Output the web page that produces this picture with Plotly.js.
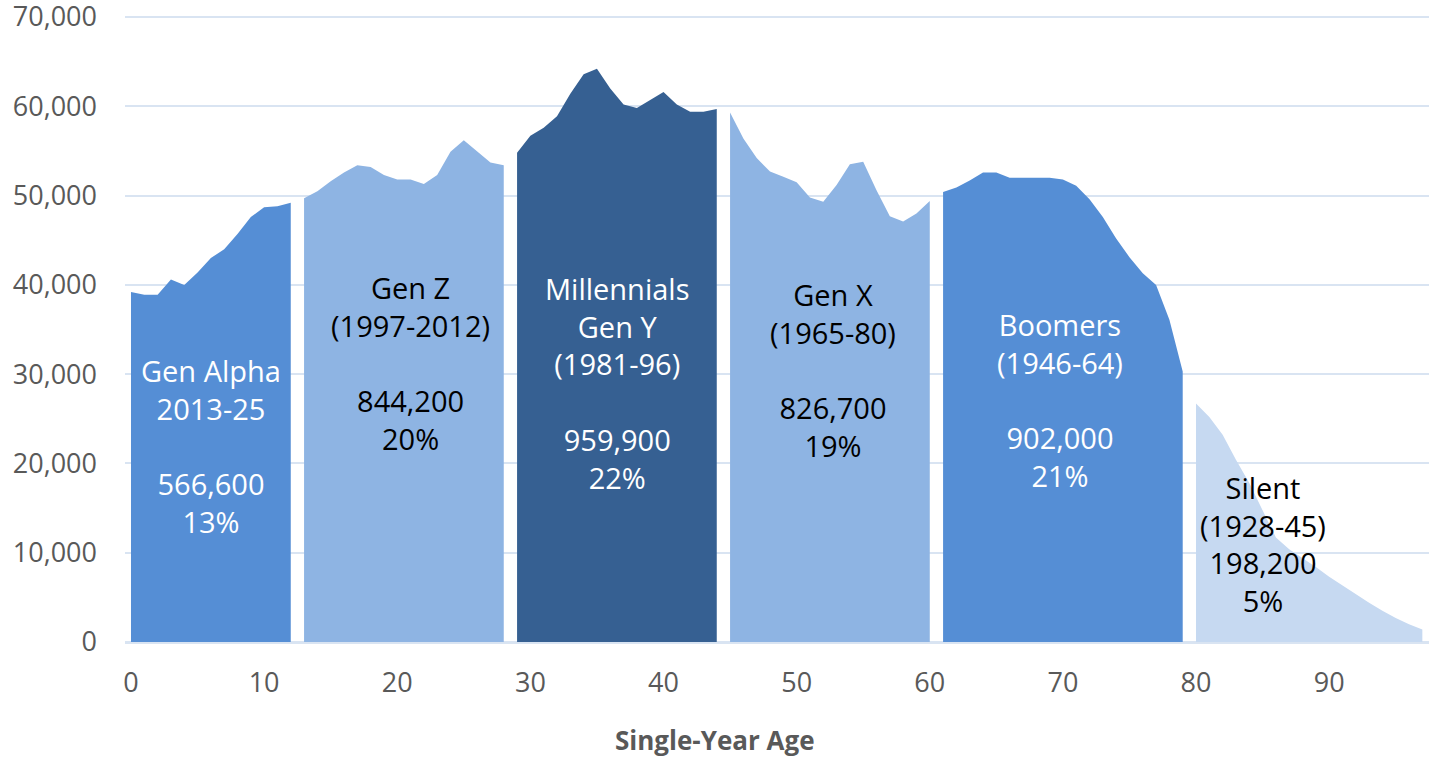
<!DOCTYPE html>
<html>
<head>
<meta charset="utf-8">
<script src="https://cdn.plot.ly/plotly-3.0.1.min.js"></script>
<style>
  html, body { margin: 0; padding: 0; background: #ffffff; }
  #chart { width: 1433px; height: 757px; }
</style>
</head>
<body>
<div id="chart"></div>
<script>
// ---- Data ----
const genAlphaAges = [0,1,2,3,4,5,6,7,8,9,10,11,12];
const genAlphaPop  = [39200,38900,38900,40600,40000,41400,43000,44000,45700,47600,48700,48800,49200];

const genZAges = [13,14,15,16,17,18,19,20,21,22,23,24,25,26,27,28];
const genZPop  = [49700,50500,51600,52600,53400,53200,52300,51800,51800,51300,52300,54900,56200,55000,53700,53400];

const millAges = [29,30,31,32,33,34,35,36,37,38,39,40,41,42,43,44];
const millPop  = [54800,56700,57600,58900,61400,63600,64200,62000,60200,59800,60700,61600,60200,59400,59400,59700];

const genXAges = [45,46,47,48,49,50,51,52,53,54,55,56,57,58,59,60];
const genXPop  = [59300,56400,54200,52700,52100,51500,49800,49300,51200,53500,53800,50600,47700,47100,48000,49400];

const boomAges = [61,62,63,64,65,66,67,68,69,70,71,72,73,74,75,76,77,78,79];
const boomPop  = [50400,50900,51700,52600,52600,52000,52000,52000,52000,51800,51100,49600,47600,45200,43100,41300,40000,36100,30300];

const silentAges = [80,81,82,83,84,85,86,87,88,89,90,91,92,93,94,95,96,97];
const silentPop  = [26700,25200,23200,20400,17800,14800,11700,10400,9400,8400,7300,6300,5300,4400,3500,2700,2000,1400];

const genNames   = ["Gen Alpha", "Gen Z", "Millennials Gen Y", "Gen X", "Boomers", "Silent"];
const genLabels  = [
  "Gen Alpha<br>2013-25<br> <br>566,600<br>13%",
  "Gen Z<br>(1997-2012)<br> <br>844,200<br>20%",
  "Millennials<br>Gen Y<br>(1981-96)<br> <br>959,900<br>22%",
  "Gen X<br>(1965-80)<br> <br>826,700<br>19%",
  "Boomers<br>(1946-64)<br> <br>902,000<br>21%",
  "Silent<br>(1928-45)<br>198,200<br>5%"
];
const labelAge   = [6.0, 21.0, 36.5, 52.7, 69.8, 85.0];
const labelPop   = [22000, 31200, 29000, 30500, 27100, 11000];

const yTickVals  = [0,10000,20000,30000,40000,50000,60000,70000];
const xTickVals  = [0,10,20,30,40,50,60,70,80,90];
const xTitle     = "Single-Year Age";

// ---- Styles ----
const fills      = ["#558ed5", "#8eb4e3", "#366092", "#8eb4e3", "#558ed5", "#c6d9f1"];
const textColors = ["#ffffff", "#000000", "#ffffff", "#000000", "#ffffff", "#000000"];
const FONT = "'Open Sans', 'Noto Sans', sans-serif";
const gridColor = "#d9e4f2";

const series = [
  [genAlphaAges, genAlphaPop],
  [genZAges, genZPop],
  [millAges, millPop],
  [genXAges, genXPop],
  [boomAges, boomPop],
  [silentAges, silentPop]
];

const traces = series.map((s, i) => ({
  type: "scatter",
  mode: "lines",
  x: s[0],
  y: s[1],
  name: genNames[i],
  fill: "tozeroy",
  fillcolor: fills[i],
  line: { width: 0, color: fills[i] },
  hoverinfo: "x+y+name",
  showlegend: false
}));

const L = 125, R = 4, T = 14, B = 115, W = 1433, H = 757;

const annotations = genLabels.map((t, i) => ({
  x: labelAge[i],
  y: labelPop[i],
  xref: "x",
  yref: "y",
  text: t,
  showarrow: false,
  xanchor: "center",
  yanchor: "middle",
  align: "center",
  font: { family: FONT, size: 29, color: textColors[i] }
}));

annotations.push({
  x: (715 - L) / (W - L - R),
  y: (H - B - 740) / (H - T - B),
  xref: "paper", yref: "paper",
  xanchor: "center", yanchor: "middle",
  text: "<b>" + xTitle + "</b>",
  showarrow: false,
  font: { family: FONT, size: 26, color: "#595959" }
});

const layout = {
  width: W,
  height: H,
  margin: { l: L, r: R, t: T, b: B, pad: 0 },
  paper_bgcolor: "#ffffff",
  plot_bgcolor: "#ffffff",
  showlegend: false,
  xaxis: {
    range: [-0.45, 97.5],
    tickmode: "array",
    tickvals: xTickVals,
    ticktext: xTickVals.map(String),
    showgrid: false,
    zeroline: false,
    showline: false,
    ticks: "",
    ticklabelstandoff: 22,
    ticklabeloverflow: "allow",
    tickfont: { family: FONT, size: 27, color: "#595959" },
    fixedrange: true
  },
  yaxis: {
    range: [0, 70340],
    tickmode: "array",
    tickvals: yTickVals,
    ticktext: yTickVals.map(v => v.toLocaleString("en-US")),
    showgrid: true,
    gridcolor: gridColor,
    gridwidth: 2,
    zeroline: true,
    zerolinecolor: gridColor,
    zerolinewidth: 3,
    showline: false,
    ticks: "",
    ticklabelstandoff: 27,
    ticklabeloverflow: "allow",
    tickfont: { family: FONT, size: 27, color: "#595959" },
    fixedrange: true
  },
  annotations: annotations
};

Plotly.newPlot("chart", traces, layout, { displayModeBar: false, staticPlot: true });
</script>
</body>
</html>
